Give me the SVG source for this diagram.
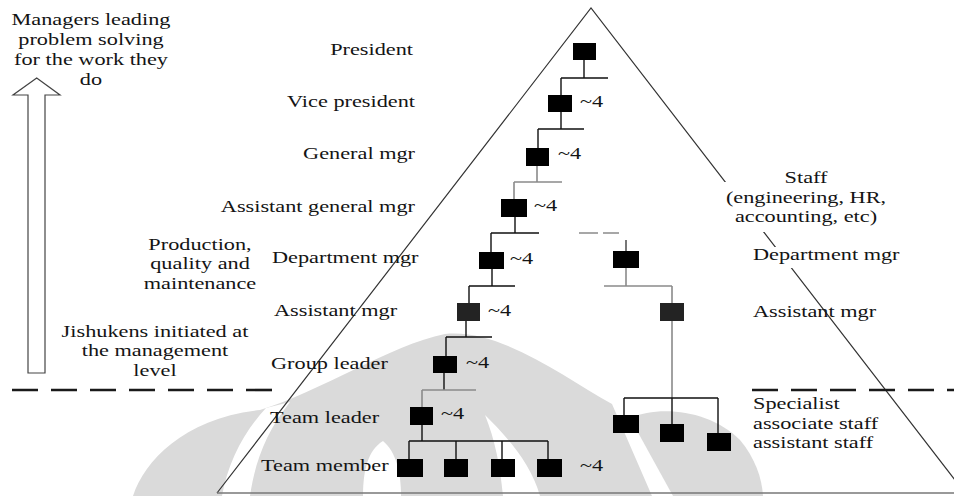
<svg xmlns="http://www.w3.org/2000/svg" width="954" height="496" viewBox="0 0 954 496">
  <style>
    text { font-family: "Liberation Serif", "Times New Roman", serif; font-size: 16.5px; fill: #141414; }
    .box { fill: #000; }
    .box2 { fill: #232323; }
    .ln { stroke: #111; stroke-width: 1.4; fill: none; }
    .lg { stroke: #8a8a8a; stroke-width: 1.6; fill: none; }
    .edge { stroke: #333; stroke-width: 1.2; fill: none; }
    .dash { stroke: #1a1a1a; stroke-width: 2.6; stroke-dasharray: 26 13; fill: none; }
    .mask { fill: #fff; }
  </style>

  <rect width="954" height="496" fill="#fff"/>

  <!-- faint emblem behind the pyramid -->
  <g id="emblem" fill="#dadada">
    <path d="M133,496 C145,460 185,418 260,410 C320,392 390,345 445,334 C500,328 565,378 612,404 L652,496 Z"/>
    <path d="M673,496 L630,418 C660,405 710,410 740,440 C755,458 762,478 763,496 Z"/>
    <path fill="#fff" d="M222,496 L250,496 C255,462 266,432 290,402 L266,408 C244,432 228,462 222,496 Z"/>
    <path fill="#fff" d="M363,496 C363,470 368,450 383,441 C396,452 401,472 401,496 Z"/>
    <path fill="#fff" d="M485,415 C502,432 530,460 540,496 L503,496 C500,465 495,440 485,415 Z"/>
  </g>

  <!-- pyramid outline -->
  <g id="pyramid">
    <path class="edge" d="M217,493 L591,8 L965,493"/>
    <line x1="217" y1="493" x2="954" y2="493" stroke="#777" stroke-width="1.6"/>
    <rect class="mask" x="722" y="182" width="168" height="50"/>
    <rect class="mask" x="750" y="247" width="152" height="21"/>
  </g>

  <!-- separation between management and shop floor -->
  <g id="divider">
    <line class="dash" x1="12" y1="390" x2="272" y2="390"/>
    <line class="dash" x1="752" y1="390" x2="954" y2="390"/>
  </g>

  <!-- upward arrow and side notes -->
  <g id="arrow">
    <polygon points="36.7,78 60,95 45,95 45,373 28,373 28,95 13,95" fill="#fff" stroke="#444" stroke-width="1.2"/>
  </g>
  <g id="note-managers">
    <text transform="translate(91,25) scale(1.35,1)" text-anchor="middle">Managers leading<tspan x="0" dy="20">problem solving</tspan><tspan x="0" dy="20">for the work they</tspan><tspan x="0" dy="20">do</tspan></text>
  </g>
  <g id="note-production">
    <text transform="translate(200,250) scale(1.35,1)" text-anchor="middle">Production,<tspan x="0" dy="19.5">quality and</tspan><tspan x="0" dy="19.5">maintenance</tspan></text>
  </g>
  <g id="note-jishuken">
    <text transform="translate(155,337) scale(1.35,1)" text-anchor="middle">Jishukens initiated at<tspan x="0" dy="19.5">the management</tspan><tspan x="0" dy="19.5">level</tspan></text>
  </g>
  <g id="note-staff">
    <text transform="translate(806,183) scale(1.35,1)" text-anchor="middle">Staff<tspan x="0" dy="20">(engineering, HR,</tspan><tspan x="0" dy="19">accounting, etc)</tspan></text>
  </g>

  <!-- connectors -->
  <g id="connectors">
    <path class="ln" d="M584,60 V78 M561,78 H608 M561,78 V95"/>
    <path class="ln" d="M561,112 V129 M538,129 H584 M538,129 V148"/>
    <path class="lg" d="M537,166 V182 M514,182 H562 M514,182 V199"/>
    <path class="ln" d="M515,217 V233 M491,233 H539 M491,233 V252"/>
    <path class="lg" d="M579,233 H598 M603,233 H619"/>
    <path stroke="#555" stroke-width="1.6" d="M626,240 V251"/>
    <path class="ln" d="M492,269 V286 M469,286 H515 M469,286 V303"/>
    <path class="ln" d="M466,321 V337 M446,337 H492 M446,337 V356"/>
    <path class="ln" d="M444,373 V390"/>
    <path class="lg" d="M422,390 H476 M422,390 V407"/>
    <path class="ln" d="M422,425 V441 M409,441 H548 M409,441 V459 M456,441 V459 M502,441 V459 M548,441 V459"/>
    <path class="lg" d="M626,268 V286 M604,286 H672 M672,286 V303 M672,321 V398"/>
    <path class="ln" d="M672,398 V424 M624,398 H718 M624,398 V415 M718,398 V433"/>
  </g>

  <!-- line organisation -->
  <g id="president">
    <rect class="box" x="573" y="43" width="23" height="17"/>
    <text transform="translate(413,55) scale(1.35,1)" text-anchor="end">President</text>
  </g>
  <g id="vice-president">
    <rect class="box" x="548" y="95" width="24" height="17"/>
    <text transform="translate(415,107) scale(1.35,1)" text-anchor="end">Vice president</text>
    <text transform="translate(580,107) scale(1.35,1)">~4</text>
  </g>
  <g id="general-mgr">
    <rect class="box" x="526" y="148" width="23" height="18"/>
    <text transform="translate(415,159) scale(1.35,1)" text-anchor="end">General mgr</text>
    <text transform="translate(558,159) scale(1.35,1)">~4</text>
  </g>
  <g id="assistant-general-mgr">
    <rect class="box" x="501" y="199" width="26" height="18"/>
    <text transform="translate(415,212) scale(1.35,1)" text-anchor="end">Assistant general mgr</text>
    <text transform="translate(534,211) scale(1.35,1)">~4</text>
  </g>
  <g id="department-mgr">
    <rect class="box" x="479" y="252" width="25" height="17"/>
    <text transform="translate(272,263) scale(1.35,1)">Department mgr</text>
    <text transform="translate(510,264) scale(1.35,1)">~4</text>
  </g>
  <g id="assistant-mgr">
    <rect class="box2" x="457" y="303" width="23" height="18"/>
    <text transform="translate(274,316) scale(1.35,1)">Assistant mgr</text>
    <text transform="translate(488,316) scale(1.35,1)">~4</text>
  </g>
  <g id="group-leader">
    <rect class="box" x="433" y="356" width="24" height="17"/>
    <text transform="translate(271,369) scale(1.35,1)">Group leader</text>
    <text transform="translate(466,368) scale(1.35,1)">~4</text>
  </g>
  <g id="team-leader">
    <rect class="box" x="410" y="407" width="23" height="18"/>
    <text transform="translate(270,423) scale(1.35,1)">Team leader</text>
    <text transform="translate(441,419) scale(1.35,1)">~4</text>
  </g>
  <g id="team-member">
    <rect class="box" x="397" y="459" width="26" height="18"/>
    <rect class="box" x="444" y="459" width="24" height="18"/>
    <rect class="box" x="491" y="459" width="24" height="18"/>
    <rect class="box" x="537" y="459" width="25" height="18"/>
    <text transform="translate(261,471) scale(1.35,1)">Team member</text>
    <text transform="translate(580,471) scale(1.35,1)">~4</text>
  </g>

  <!-- staff organisation -->
  <g id="staff-department-mgr">
    <rect class="box" x="613" y="251" width="26" height="17"/>
    <text transform="translate(753,260) scale(1.35,1)">Department mgr</text>
  </g>
  <g id="staff-assistant-mgr">
    <rect class="box2" x="660" y="303" width="24" height="18"/>
    <text transform="translate(753,317) scale(1.35,1)">Assistant mgr</text>
  </g>
  <g id="staff-specialists">
    <rect class="box" x="613" y="415" width="26" height="18"/>
    <rect class="box" x="660" y="424" width="24" height="18"/>
    <rect class="box" x="707" y="433" width="24" height="18"/>
    <text transform="translate(753,409) scale(1.35,1)">Specialist<tspan x="0" dy="20">associate staff</tspan><tspan x="0" dy="19">assistant staff</tspan></text>
  </g>
</svg>
